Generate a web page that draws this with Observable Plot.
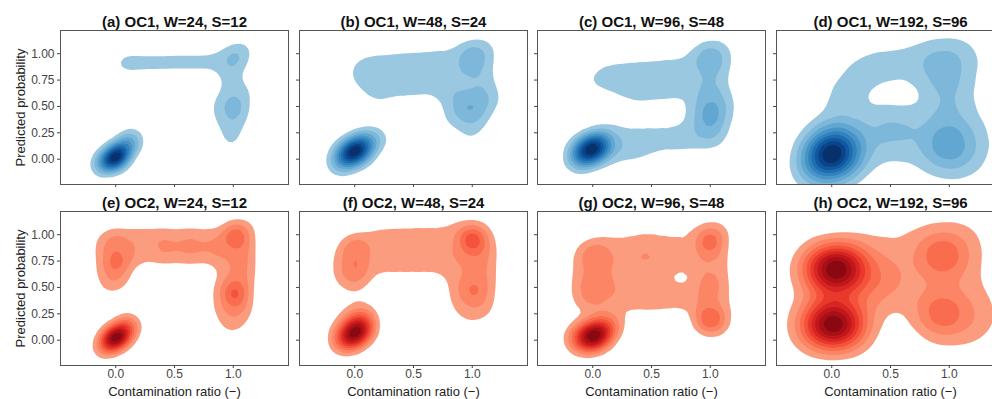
<!DOCTYPE html>
<html><head><meta charset="utf-8">
<script src="https://cdn.jsdelivr.net/npm/d3@7"></script>
<script src="https://cdn.jsdelivr.net/npm/@observablehq/plot@0.6"></script>
<style>
body{margin:0;background:#fff;overflow:hidden}
#wrap{position:relative;width:992px;height:399px;overflow:hidden;font-family:"Liberation Sans",Arial,sans-serif}
#wrap svg{position:absolute;overflow:visible}
</style></head><body><div id="wrap"></div>
<script>
const titles = ["(a) OC1, W=24, S=12","(b) OC1, W=48, S=24","(c) OC1, W=96, S=48","(d) OC1, W=192, S=96",
                "(e) OC2, W=24, S=12","(f) OC2, W=48, S=24","(g) OC2, W=96, S=48","(h) OC2, W=192, S=96"];
const xTicks = [0, 0.5, 1];
const yTicks = [0, 0.25, 0.5, 0.75, 1];
const xLabel = "Contamination ratio (\u2212)";
const yLabel = "Predicted probability";

// [contamination ratio, predicted probability, weight]
const pA = [
 [-0.13,-0.08,2],[-0.09,-0.05,4],[-0.05,-0.01,7],[-0.01,0.02,9],[0.03,0.05,8],[0.07,0.09,5],[0.11,0.13,3],[0.14,0.17,2],[0.16,0.21,1.5],[-0.12,0.0,1],[0.02,-0.04,1],[0.1,0.22,1],
 [0.04,0.91,1.1],[0.08,0.91,1],[0.12,0.91,1],[0.17,0.915,1],[0.22,0.915,1],[0.27,0.915,1],[0.32,0.915,1],[0.37,0.915,1],[0.42,0.915,1],[0.47,0.92,1],[0.52,0.92,1],[0.57,0.92,1],[0.62,0.92,1],[0.67,0.92,1],[0.72,0.92,1],[0.77,0.92,1],[0.82,0.92,1],
 [0.9,1.0,0.85],[0.98,1.02,0.85],[1.06,1.05,0.85],[1.12,1.07,0.85],[0.88,0.93,0.85],[0.96,0.94,0.85],[1.04,0.95,0.85],[1.11,0.98,0.85],[0.92,0.86,0.85],[1.0,0.87,0.85],[1.07,0.88,0.85],
 [0.93,0.79,0.85],[1.01,0.79,0.85],[0.95,0.72,0.85],[1.03,0.72,0.85],
 [0.92,0.64,0.85],[1.0,0.64,0.85],[1.08,0.64,0.85],[1.13,0.66,0.85],
 [0.86,0.56,0.85],[0.94,0.56,0.85],[1.02,0.56,0.85],[1.1,0.56,0.85],
 [0.86,0.48,0.85],[0.94,0.48,0.85],[1.02,0.48,0.85],[1.1,0.48,0.85],
 [0.86,0.4,0.85],[0.94,0.4,0.85],[1.02,0.4,0.85],[1.08,0.4,0.85],
 [0.9,0.32,0.85],[0.98,0.32,0.85],[1.05,0.32,0.85],
 [0.95,0.24,0.85],[1.02,0.24,0.85],[0.98,0.18,0.85],[0.97,0.13,0.7],
 [1.01,0.98,1.6],[1.01,0.49,1.6]
];
const pB = [
 [-0.15,-0.05,2],[-0.1,-0.01,4],[-0.05,0.04,7],[0.0,0.08,9],[0.05,0.11,6],[0.1,0.15,3.5],[0.16,0.18,2],[0.22,0.2,1.3],[-0.12,0.06,1.2],[0.06,0.02,1.2],[0.08,0.2,1],
 [0.06,0.89,1],[0.15,0.93,1],[0.25,0.94,1],[0.35,0.95,1],[0.45,0.96,1],[0.55,0.97,1],[0.65,0.98,1],[0.75,0.99,1],[0.85,1.01,1],
 [0.03,0.83,1],[0.15,0.84,1],[0.25,0.84,1],[0.35,0.85,1],[0.45,0.86,1],[0.55,0.86,1],[0.65,0.87,1],[0.75,0.88,1],
 [0.03,0.75,1],[0.15,0.74,1],[0.25,0.75,1],[0.35,0.75,1],[0.45,0.76,1],[0.55,0.76,1],[0.65,0.77,1],[0.75,0.77,1],
 [0.12,0.66,1],[0.18,0.58,1],[0.27,0.62,1],[0.37,0.64,1],[0.47,0.65,1],[0.57,0.66,1],[0.67,0.67,1],[0.76,0.67,1],
 [0.95,1.05,1],[1.05,1.07,1],[1.14,1.08,1],
 [0.95,0.95,1],[1.05,0.96,1],[1.15,0.98,1],
 [0.85,0.87,1],[0.95,0.85,1],[1.05,0.85,1],[1.14,0.86,1],
 [0.85,0.76,1],[0.95,0.75,1],[1.05,0.75,1],[1.13,0.74,1],
 [0.8,0.65,1],[0.9,0.64,1],[1.0,0.64,1],[1.1,0.64,1],[1.17,0.62,1],
 [0.8,0.54,1],[0.9,0.54,1],[1.0,0.54,1],[1.1,0.54,1],[1.16,0.55,1],
 [0.8,0.44,1],[0.9,0.44,1],[1.0,0.44,1],[1.1,0.46,1],
 [0.83,0.35,1],[0.93,0.33,1],[1.03,0.34,1],[1.08,0.38,1],
 [0.99,0.23,1.3],
 [1.0,0.97,2.5],[0.97,0.49,2.5]
];
const pC = [
 [-0.15,-0.01,2],[-0.1,0.03,4],[-0.05,0.07,7],[0.0,0.1,9],[0.05,0.13,6],[0.1,0.16,3],[-0.14,0.07,1],
 [0.05,0.81,0.9],[0.15,0.84,0.9],[0.25,0.86,0.9],[0.35,0.87,0.9],[0.45,0.88,0.9],[0.55,0.89,0.9],[0.65,0.9,0.9],[0.75,0.91,0.9],[0.85,0.93,0.9],
 [-0.02,0.72,0.9],[0.1,0.74,0.9],[0.2,0.75,0.9],[0.3,0.76,0.9],[0.4,0.77,0.9],[0.5,0.77,0.9],[0.6,0.78,0.9],[0.7,0.78,0.9],[0.8,0.79,0.9],
 [0.2,0.66,0.9],[0.3,0.65,0.9],[0.4,0.66,0.9],[0.5,0.66,0.9],[0.6,0.66,0.9],[0.7,0.66,0.9],[0.8,0.67,0.9],[0.37,0.55,0.8],[0.5,0.58,0.6],[0.65,0.58,0.6],
 [0.92,1.02,0.9],[1.02,1.05,0.9],[1.12,1.06,0.9],
 [0.92,0.95,0.9],[1.02,0.95,0.9],[1.12,0.97,0.9],
 [0.95,0.85,0.9],[1.05,0.85,0.9],[1.12,0.86,0.9],
 [0.9,0.75,0.9],[1.0,0.75,0.9],[1.07,0.74,0.9],
 [0.9,0.65,0.9],[1.0,0.65,0.9],[1.08,0.64,0.9],
 [0.88,0.56,0.9],[0.98,0.56,0.9],[1.08,0.56,0.9],[1.15,0.57,0.9],
 [0.86,0.46,0.9],[0.96,0.46,0.9],[1.06,0.46,0.9],[1.14,0.45,0.9],
 [0.84,0.36,0.9],[0.94,0.36,0.9],[1.04,0.36,0.9],[1.12,0.36,0.9],
 [0.84,0.26,0.9],[0.94,0.26,0.9],[1.04,0.26,0.9],[1.08,0.2,0.9],
 [0.9,0.16,0.9],[1.0,0.16,0.9],
 [0.12,0.26,0.9],[0.22,0.26,0.9],[0.32,0.24,0.9],[0.42,0.24,0.9],[0.52,0.24,0.9],[0.62,0.24,0.9],[0.72,0.25,0.9],
 [0.22,0.14,0.9],[0.32,0.13,0.9],[0.42,0.14,0.9],[0.52,0.15,0.9],[0.62,0.15,0.9],[0.72,0.16,0.9],[0.8,0.16,0.9],
 [0.15,0.03,0.9],[0.25,0.04,0.9],[0.35,0.05,0.8],[0.45,0.07,0.6],
 [1.0,0.97,2],[1.0,0.46,2.5],[1.0,0.31,1.5]
];
const pD = [
 [-0.12,0.0,5],[0.0,0.05,15],[0.12,0.1,5],
 [0.3,0.9,1],[0.5,0.95,1],[0.7,0.98,1],[0.9,1.01,1],[1.1,1.03,1],[1.2,1.0,1],
 [0.1,0.76,1],[0.25,0.83,1],[0.42,0.84,1],[0.6,0.85,1],[0.78,0.86,1],[0.96,0.84,1],[1.14,0.82,1],
 [0.04,0.58,1],[0.18,0.6,1],[0.96,0.62,1],[1.13,0.62,1],
 [0.0,0.4,1],[0.15,0.4,1],[0.35,0.35,1],[0.55,0.35,1],[0.75,0.35,1],[0.95,0.42,1],[1.15,0.42,1],
 [-0.04,0.22,1],[0.15,0.22,1],[0.35,0.2,1],[0.55,0.2,1],[0.75,0.2,1],[0.95,0.22,1],[1.15,0.22,1],[1.28,0.25,1],
 [-0.2,-0.06,1],[-0.08,0.02,1],[0.1,0.02,1],[0.3,0.03,1],[0.5,0.04,1],[0.7,0.02,1],[0.9,0.0,1],[1.1,0.0,1],[1.28,0.05,1],
 [-0.18,-0.15,1],[-0.05,-0.15,1],[0.12,-0.12,1],[0.95,-0.07,1],[1.15,-0.06,1],
 [0.94,0.9,3],[0.99,0.15,6],[0.94,0.56,2],[0.53,0.33,2]
];
const pE = [
 [-0.12,-0.08,2],[-0.07,-0.04,4],[-0.03,0.0,7],[0.01,0.03,9],[0.05,0.07,6],[0.1,0.11,3.5],[0.14,0.15,2],[0.06,0.16,1],
 [-0.12,0.98,0.85],[-0.04,1.0,0.85],[0.04,1.0,0.85],
 [-0.13,0.9,0.85],[-0.05,0.9,0.85],[0.03,0.9,0.85],
 [-0.12,0.82,0.85],[-0.04,0.82,0.85],[0.04,0.82,0.85],
 [-0.12,0.74,0.85],[-0.04,0.74,0.85],[0.04,0.74,0.85],[0.1,0.74,0.85],
 [-0.12,0.66,0.85],[-0.04,0.66,0.85],[0.04,0.66,0.85],[0.08,0.62,0.85],
 [-0.1,0.58,0.85],[-0.02,0.58,0.85],[0.05,0.56,0.85],
 [-0.08,0.51,0.85],[0.0,0.51,0.85],
 [0.12,1.01,0.85],[0.2,1.01,0.85],[0.28,1.01,0.85],[0.36,1.01,0.85],[0.44,1.01,0.85],[0.52,1.01,0.85],[0.6,1.01,0.85],[0.68,1.01,0.85],[0.76,1.01,0.85],[0.84,1.01,0.85],
 [0.12,0.93,0.85],[0.2,0.93,0.85],[0.28,0.93,0.85],[0.36,0.93,0.85],[0.44,0.93,0.85],[0.52,0.93,0.85],[0.6,0.93,0.85],[0.68,0.93,0.85],[0.76,0.93,0.85],[0.84,0.93,0.85],
 [0.12,0.85,0.85],[0.2,0.85,0.6],[0.36,0.85,0.85],[0.44,0.85,0.85],[0.52,0.85,0.85],[0.6,0.85,0.85],[0.68,0.85,0.85],[0.76,0.85,0.85],[0.84,0.85,0.85],
 [0.12,0.78,0.85],[0.2,0.78,0.85],[0.28,0.78,0.85],[0.36,0.78,0.85],[0.44,0.78,0.85],[0.52,0.78,0.85],[0.6,0.78,0.85],[0.68,0.78,0.85],[0.76,0.78,0.85],[0.84,0.78,0.85],
 [0.98,1.08,0.85],[1.06,1.09,0.85],[1.13,1.09,0.85],
 [0.92,1.0,0.85],[1.0,1.0,0.85],[1.08,1.0,0.85],[1.14,1.0,0.85],
 [0.92,0.92,0.85],[1.0,0.92,0.85],[1.08,0.92,0.85],[1.13,0.92,0.85],
 [0.92,0.84,0.85],[1.0,0.84,0.85],[1.08,0.84,0.85],[1.13,0.84,0.85],
 [0.92,0.76,0.85],[1.0,0.76,0.85],[1.08,0.76,0.85],[1.13,0.76,0.85],
 [0.92,0.68,0.85],[1.0,0.68,0.85],[1.08,0.68,0.85],[1.13,0.68,0.85],
 [0.92,0.6,0.85],[1.0,0.6,0.85],[1.08,0.6,0.85],[1.13,0.6,0.85],
 [0.88,0.52,0.85],[0.96,0.52,0.85],[1.04,0.52,0.85],[1.12,0.52,0.85],
 [0.88,0.44,0.85],[0.96,0.44,0.85],[1.04,0.44,0.85],[1.12,0.44,0.85],
 [0.88,0.36,0.85],[0.96,0.36,0.85],[1.04,0.36,0.85],[1.12,0.36,0.85],
 [0.88,0.28,0.85],[0.96,0.28,0.85],[1.04,0.28,0.85],[1.12,0.28,0.85],
 [0.92,0.2,0.85],[1.0,0.2,0.85],[1.08,0.2,0.85],
 [0.95,0.12,0.85],[1.03,0.12,0.85],
 [0.0,0.94,1.5],[0.0,0.74,2.5],[1.01,0.98,4],[1.01,0.48,2.5],[1.01,0.39,2.5]
];
const pF = [
 [-0.1,-0.03,3],[-0.04,0.03,6],[0.01,0.07,9],[0.06,0.1,5],[0.1,0.15,3],[-0.12,0.1,1.5],[0.02,0.18,2],[-0.08,0.24,1.1],[0.03,0.27,1.6],[0.11,0.27,1],[-0.14,0.02,1.5],
 [-0.1,0.88,0.9],[0.0,0.92,0.9],[0.09,0.95,0.9],
 [-0.14,0.78,0.9],[-0.03,0.8,0.9],[0.08,0.82,0.9],
 [-0.14,0.68,0.9],[-0.03,0.68,0.9],[0.08,0.7,0.9],
 [-0.12,0.59,0.9],[-0.01,0.59,0.9],[0.08,0.6,0.9],
 [-0.06,0.51,0.8],[0.04,0.51,0.8],
 [0.18,1.0,0.9],[0.28,1.02,0.9],[0.38,1.03,0.9],[0.48,1.03,0.9],[0.58,1.04,0.9],[0.68,1.05,0.9],[0.78,1.06,0.9],
 [0.18,0.9,0.9],[0.28,0.9,0.9],[0.38,0.9,0.9],[0.48,0.9,0.9],[0.58,0.9,0.9],[0.68,0.9,0.9],[0.78,0.9,0.9],
 [0.18,0.8,0.9],[0.28,0.8,0.9],[0.38,0.8,0.9],[0.48,0.8,0.9],[0.58,0.8,0.9],[0.68,0.8,0.9],[0.78,0.8,0.9],
 [0.18,0.68,0.9],[0.28,0.68,0.9],[0.38,0.68,0.9],[0.48,0.68,0.9],[0.58,0.68,0.9],[0.68,0.68,0.9],[0.78,0.68,0.9],
 [0.88,1.06,0.9],[0.98,1.07,0.9],[1.08,1.07,0.9],
 [0.88,0.95,0.9],[0.98,0.95,0.9],[1.08,0.95,0.9],[1.14,0.95,0.9],
 [0.88,0.85,0.9],[0.98,0.85,0.9],[1.08,0.85,0.9],[1.14,0.85,0.9],
 [0.88,0.75,0.9],[0.98,0.75,0.9],[1.08,0.75,0.9],[1.14,0.75,0.9],
 [0.86,0.65,0.9],[0.98,0.65,0.9],[1.08,0.65,0.9],[1.14,0.65,0.9],
 [0.85,0.55,0.9],[0.96,0.55,0.9],[1.06,0.55,0.9],[1.14,0.55,0.9],
 [0.85,0.45,0.9],[0.96,0.45,0.9],[1.06,0.45,0.9],[1.14,0.45,0.9],
 [0.86,0.35,0.9],[0.97,0.35,0.9],[1.07,0.35,0.9],[1.13,0.33,0.9],
 [0.91,0.24,0.9],[1.0,0.23,0.9],[1.08,0.25,0.9],
 [0.0,0.88,2.5],[0.0,0.69,2.5],[1.0,0.96,6],[1.0,0.75,1.2],[1.0,0.47,2.5]
];
const pG = [
 [-0.12,0.0,3],[-0.05,0.02,6],[0.01,0.04,9],[0.07,0.07,5],[0.13,0.12,3],[0.18,0.16,1.5],[-0.16,0.04,1],
 [0.05,0.9,0.7],[0.15,0.93,0.7],[0.25,0.94,0.7],[0.35,0.95,0.7],[0.45,0.96,0.7],[0.55,0.96,0.7],[0.65,0.97,0.7],[0.75,0.98,0.7],[0.85,0.99,0.7],[0.95,1.03,0.7],[1.05,1.04,0.7],[1.13,1.04,0.7],
 [-0.12,0.83,0.7],[0.0,0.83,0.7],[0.1,0.83,0.7],[0.2,0.83,0.7],[0.3,0.83,0.7],[0.4,0.83,0.7],[0.5,0.83,0.7],[0.6,0.83,0.7],[0.7,0.83,0.7],[0.8,0.83,0.7],[0.9,0.83,0.7],[1.0,0.83,0.7],[1.1,0.83,0.7],
 [-0.1,0.73,0.7],[0.0,0.73,0.7],[0.1,0.73,0.7],[0.2,0.73,0.7],[0.3,0.73,0.7],[0.4,0.73,0.7],[0.5,0.73,0.7],[0.6,0.73,0.7],[0.7,0.73,0.7],[0.8,0.73,0.7],[0.9,0.73,0.7],[1.0,0.73,0.7],[1.1,0.73,0.7],
 [-0.13,0.63,0.7],[0.0,0.63,0.7],[0.1,0.63,0.7],[0.2,0.63,0.7],[0.3,0.63,0.7],[0.4,0.63,0.7],[0.5,0.63,0.7],[0.6,0.63,0.7],[0.9,0.63,0.7],[1.0,0.63,0.7],[1.1,0.63,0.7],
 [-0.13,0.53,0.7],[0.0,0.53,0.7],[0.1,0.53,0.7],[0.2,0.53,0.7],[0.3,0.53,0.7],[0.4,0.53,0.7],[0.5,0.53,0.7],[0.6,0.53,0.7],[0.7,0.53,0.1],[0.8,0.53,0.1],[0.9,0.53,0.7],[1.0,0.53,0.7],[1.1,0.53,0.7],
 [-0.13,0.43,0.7],[0.0,0.43,0.7],[0.1,0.43,0.7],[0.2,0.43,0.7],[0.3,0.43,0.7],[0.4,0.43,0.7],[0.5,0.43,0.7],[0.6,0.43,0.7],[0.7,0.43,0.7],[0.8,0.43,0.7],[0.9,0.43,0.7],[1.0,0.43,0.7],[1.12,0.43,0.7],
 [-0.12,0.33,0.7],[0.0,0.33,0.7],[0.1,0.33,0.7],[0.2,0.36,0.7],[0.3,0.36,0.7],[0.4,0.32,0.7],[0.5,0.3,0.7],[0.6,0.35,0.7],[0.7,0.38,0.7],[0.8,0.38,0.7],[0.9,0.33,0.7],[1.0,0.33,0.7],[1.12,0.33,0.7],
 [0.9,0.23,0.7],[1.0,0.23,0.7],[1.12,0.23,0.7],
 [0.93,0.13,0.7],[1.03,0.12,0.7],[1.1,0.14,0.7],
 [0.0,0.82,2.5],[0.0,0.51,2.5],[0.0,0.32,1],[1.0,0.94,5],[1.0,0.2,4.5],[1.0,0.5,1.3],[0.46,0.88,0.8]
];
const pH = [
 [-0.08,0.67,6],[0.04,0.67,10],[0.16,0.68,6],[-0.1,0.15,6],[0.01,0.15,10],[0.13,0.15,6],
 [0.88,0.8,3],[0.98,0.8,3.5],[0.88,0.26,2.5],[0.98,0.26,3],[0.45,0.62,2.5],[0.3,0.42,1],
 [-0.2,0.72,0.85],[-0.05,0.8,0.85],[0.15,0.86,0.95],[0.35,0.91,1],[0.55,0.95,1],[0.75,0.98,0.95],[0.95,1.01,0.85],[1.12,1.01,0.85],[1.22,0.95,0.85],
 [-0.26,0.6,0.85],[-0.1,0.65,0.85],[0.1,0.65,0.85],[0.3,0.66,0.85],[0.5,0.68,0.85],[0.7,0.7,0.85],[0.9,0.72,0.85],[1.1,0.72,0.85],[1.22,0.7,0.85],
 [0.0,0.45,0.85],[0.2,0.45,0.85],[0.4,0.45,0.85],[0.6,0.45,0.85],[0.8,0.45,0.85],[1.0,0.45,0.85],[1.2,0.45,0.85],[1.3,0.35,0.85],[0.5,0.32,0.6],
 [-0.26,0.2,0.85],[-0.1,0.25,0.85],[0.1,0.25,0.85],[0.3,0.2,0.85],[0.75,0.25,0.85],[0.95,0.25,0.85],[1.15,0.25,0.85],[1.3,0.2,0.85],
 [-0.26,0.07,0.85],[-0.1,0.05,0.85],[0.1,0.05,0.85],[0.25,0.05,0.85],[0.9,0.05,0.85],[1.1,0.05,0.85],[1.25,0.08,0.85]
];

const panelData = [pA, pB, pC, pD, pE, pF, pG, pH];
const bandwidths = [6, 7, 8, 14, 6, 7, 8, 14];

const frameLefts = [60, 298.5, 537, 775.5];
const frameTops = [30, 210.5];
const FW = 228, FH = 154, ML = 50, MR = 10, MT = 30, MB = 40;
const wrap = document.getElementById("wrap");
const blues = t => d3.interpolateBlues(0.3 + 0.7 * t);
const reds = t => d3.interpolateReds(0.27 + 0.66 * t);

panelData.forEach((pts, i) => {
  const row = Math.floor(i / 4), col = i % 4;
  const marks = [
    Plot.density(pts, {x: d => d[0], y: d => d[1], weight: d => d[2], bandwidth: bandwidths[i], thresholds: 10, fill: "density", stroke: "none", clip: true}),
    Plot.frame({stroke: "#555", strokeWidth: 1}),
    Plot.axisX(xTicks, {tickSize: 3, tickPadding: 1, tickFormat: row === 1 ? d3.format(".1f") : () => "", label: null, fontSize: 12, color: "#444"}),
    Plot.axisY(yTicks, {tickSize: 3, tickPadding: 3, tickFormat: col === 0 ? d3.format(".2f") : () => "", label: null, fontSize: 12, color: "#444"}),
    Plot.text([titles[i]], {text: d => d, frameAnchor: "top", lineAnchor: "middle", textAnchor: "middle", dy: -8.5, fontWeight: "bold", fontSize: 15, fill: "#111"})
  ];
  if (col === 0) marks.push(Plot.text([yLabel], {text: d => d, frameAnchor: "left", textAnchor: "middle", lineAnchor: "middle", rotate: -90, dx: -40, fontSize: 13, fill: "#222"}));
  if (row === 1) marks.push(Plot.text([xLabel], {text: d => d, frameAnchor: "bottom", textAnchor: "middle", lineAnchor: "middle", dy: 26, fontSize: 13, fill: "#222"}));
  const svg = Plot.plot({
    width: ML + FW + MR, height: MT + FH + MB,
    marginLeft: ML, marginRight: MR, marginTop: MT, marginBottom: MB,
    style: {background: "transparent", fontFamily: '"Liberation Sans", Arial, sans-serif', overflow: "visible"},
    x: {domain: [-0.47, 1.47]},
    y: {domain: [-0.24, 1.22]},
    color: {type: "linear", interpolate: row === 0 ? blues : reds},
    marks
  });
  svg.style.left = (frameLefts[col] - ML) + "px";
  svg.style.top = (frameTops[row] - MT) + "px";
  wrap.appendChild(svg);
});
</script></body></html>
